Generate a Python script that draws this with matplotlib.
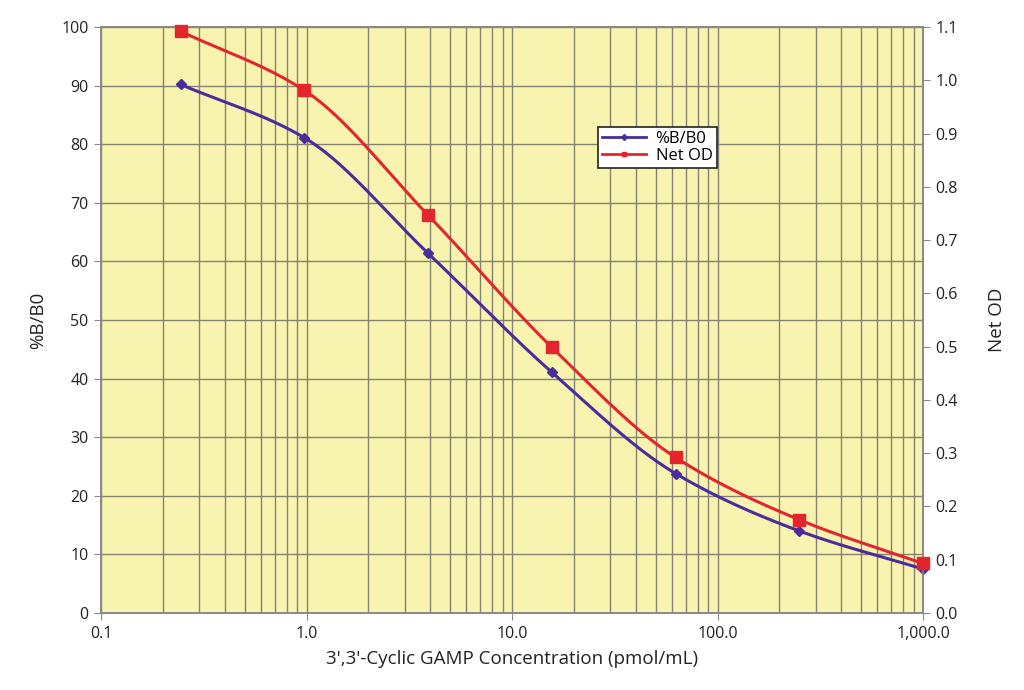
import numpy as np
import matplotlib
matplotlib.use("Agg")
import matplotlib.pyplot as plt
from matplotlib.ticker import FixedLocator, FuncFormatter, LogLocator, NullFormatter
from matplotlib.lines import Line2D

plt.rcParams['font.family'] = ['Open Sans', 'DejaVu Sans']

# Data
conc = [0.244, 0.977, 3.9, 15.6, 62.5, 250.0, 1000.0]
pct_b_b0 = [90.2, 81.1, 61.4, 41.1, 23.8, 14.0, 7.5]
net_od = [1.092, 0.981, 0.747, 0.499, 0.292, 0.175, 0.093]
x_ticks = [0.1, 1.0, 10.0, 100.0, 1000.0]
x_tick_labels = ["0.1", "1.0", "10.0", "100.0", "1,000.0"]
left_ticks = list(range(0, 101, 10))
right_ticks = [round(0.1 * i, 1) for i in range(12)]

yellow = '#f8f4b0'
blue = '#4a2c9c'
red = '#e3262e'
grid_c = '#858170'

def smooth(xs, ys, n=40):
    # monotone cubic (Fritsch-Carlson) in log10(x) space, for curve rendering
    lx = np.log10(np.asarray(xs, float)); y = np.asarray(ys, float)
    h = np.diff(lx); d = np.diff(y) / h
    m = np.zeros_like(y)
    m[0] = d[0]; m[-1] = d[-1]
    for i in range(1, len(y) - 1):
        if d[i-1] * d[i] <= 0:
            m[i] = 0
        else:
            w1 = 2 * h[i] + h[i-1]; w2 = h[i] + 2 * h[i-1]
            m[i] = (w1 + w2) / (w1 / d[i-1] + w2 / d[i])
    X, Y = [], []
    for i in range(len(h)):
        t = np.linspace(0, 1, n, endpoint=(i == len(h) - 1))
        h00 = 2*t**3 - 3*t**2 + 1; h10 = t**3 - 2*t**2 + t
        h01 = -2*t**3 + 3*t**2; h11 = t**3 - t**2
        X.append(lx[i] + t * h[i])
        Y.append(h00*y[i] + h10*h[i]*m[i] + h01*y[i+1] + h11*h[i]*m[i+1])
    return 10 ** np.concatenate(X), np.concatenate(Y)

fig = plt.figure(figsize=(10.24, 6.9), dpi=100)
ax = fig.add_axes([101/1024, 77/690, 822/1024, 586/690])
ax.set_facecolor(yellow)
ax.set_xscale('log')
ax.set_xlim(0.1, 1000)
ax.set_ylim(0, 100)

ax2 = ax.twinx()
ax2.set_ylim(0, 1.1)

# grid
ax.xaxis.set_major_locator(FixedLocator(x_ticks))
ax.xaxis.set_major_formatter(FuncFormatter(lambda v, p: x_tick_labels[x_ticks.index(v)] if v in x_ticks else ""))
ax.xaxis.set_minor_locator(LogLocator(base=10, subs=np.arange(2, 10)))
ax.xaxis.set_minor_formatter(NullFormatter())
ax.set_yticks(left_ticks)
ax.grid(True, which='both', axis='x', color=grid_c, lw=1.0)
ax.grid(True, which='major', axis='y', color=grid_c, lw=1.0)
ax.set_axisbelow(True)
ax.tick_params(axis='x', which='minor', length=0)
ax.tick_params(axis='both', which='major', length=5, color='#888888', labelsize=11.5, labelcolor='#222222', pad=4)
ax2.set_yticks(right_ticks)
ax2.yaxis.set_major_formatter(FuncFormatter(lambda v, p: f"{v:.1f}"))
ax2.tick_params(axis='y', length=5, color='#888888', labelsize=11.5, labelcolor='#222222', pad=4)

for a in (ax, ax2):
    for s in a.spines.values():
        s.set_color('#888888')
        s.set_linewidth(1.2)

# curves (blue on left axis, red on right axis)
sx, sy = smooth(conc, pct_b_b0)
ax.plot(sx, sy, color=blue, lw=2.2, zorder=3)
ax.plot(conc, pct_b_b0, linestyle='none', marker='D', ms=5.5, color=blue, zorder=4, clip_on=False)
rx, ry = smooth(conc, net_od)
ax2.plot(rx, ry, color=red, lw=2.2, zorder=3)
ax2.plot(conc, net_od, linestyle='none', marker='s', ms=8, color=red, zorder=4, clip_on=False)

ax.set_xlabel("3',3'-Cyclic GAMP Concentration (pmol/mL)", fontsize=13.5, color='#222222', labelpad=6)
ax.set_ylabel("%B/B0", fontsize=13.5, color='#222222', labelpad=10)
ax2.set_ylabel("Net OD", fontsize=13.5, color='#222222', labelpad=22)

handles = [Line2D([], [], color=blue, lw=2, marker='D', ms=3),
           Line2D([], [], color=red, lw=2, marker='s', ms=3)]
leg = ax2.legend(handles, ["%B/B0", "Net OD"], loc='upper left',
                 bbox_to_anchor=((598-101)/822, (613-127)/586),
                 frameon=True, fancybox=False, fontsize=12, handlelength=2.6,
                 borderpad=0.25, labelspacing=0.05, handletextpad=0.6, borderaxespad=0)
leg.get_frame().set_edgecolor('#222222')
leg.get_frame().set_linewidth(1.2)
leg.get_frame().set_facecolor('white')
leg.get_frame().set_alpha(1)

fig.savefig('out.png', dpi=100, facecolor='white')
